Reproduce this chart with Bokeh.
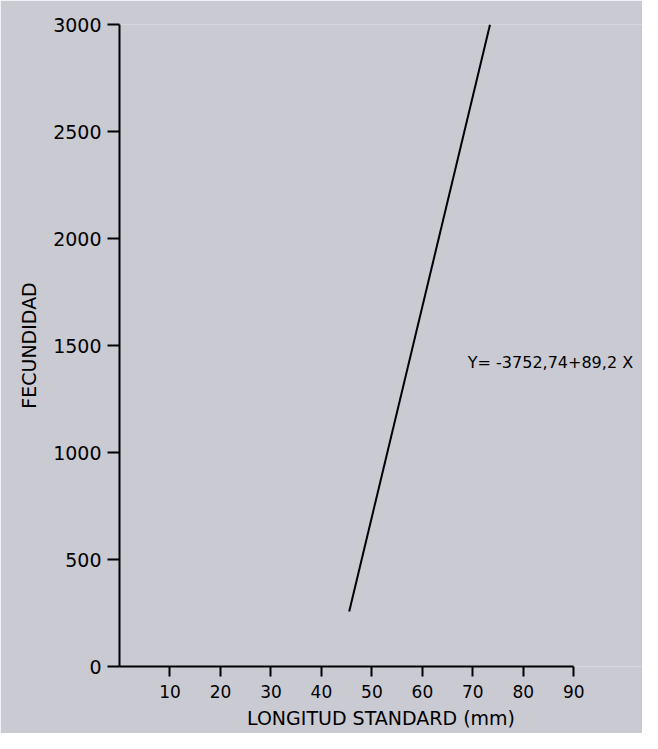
from bokeh.plotting import figure
from bokeh.models import Range1d, FixedTicker, Label
from bokeh.embed import file_html
from bokeh.resources import INLINE

# ---- data ----
x_ticks = [10, 20, 30, 40, 50, 60, 70, 80, 90]
x_tick_labels = ["10", "20", "30", "40", "50", "60", "70", "80", "90"]
y_ticks = [0, 500, 1000, 1500, 2000, 2500, 3000]
y_tick_labels = ["0", "500", "1000", "1500", "2000", "2500", "3000"]

line_x = [45.5, 73.4]      # longitud standard (mm)
line_y = [257, 3000]       # fecundidad

equation = "Y= -3752,74+89,2 X"
eq_pos = (69.0, 1420)

x_title = "LONGITUD STANDARD (mm)"
y_title = "FECUNDIDAD"

BG = "#cacad2"
FONT = "DejaVu Sans"

p = figure(width=642, height=733,
           x_range=Range1d(0, 103.6), y_range=Range1d(0, 3000),
           output_backend="svg", toolbar_location=None,
           min_border_left=119, min_border_right=0,
           min_border_top=24, min_border_bottom=67)

p.background_fill_color = BG
p.border_fill_color = BG
p.outline_line_color = None
p.grid.visible = False

# axes
p.xaxis.ticker = FixedTicker(ticks=x_ticks)
p.xaxis.major_label_overrides = {t: l for t, l in zip(x_ticks, x_tick_labels)}
p.xaxis.bounds = (0, 90)
p.yaxis.ticker = FixedTicker(ticks=y_ticks)
p.yaxis.major_label_overrides = {t: l for t, l in zip(y_ticks, y_tick_labels)}

for ax in (p.xaxis, p.yaxis):
    ax.axis_line_color = "black"
    ax.axis_line_width = 2
    ax.major_tick_line_color = "black"
    ax.major_tick_line_width = 2
    ax.major_tick_in = 0
    ax.minor_tick_line_color = None
    ax.major_label_text_font = FONT
    ax.major_label_text_color = "black"
    ax.axis_label_text_font = FONT
    ax.axis_label_text_font_style = "normal"
    ax.axis_label_text_font_size = "19px"
    ax.axis_label_text_color = "black"

p.xaxis.major_tick_out = 10
p.xaxis.major_label_standoff = 8
p.xaxis.major_label_text_font_size = "17px"
p.xaxis.axis_label = x_title
p.xaxis.axis_label_standoff = 6

p.yaxis.major_tick_out = 12
p.yaxis.major_label_standoff = 6
p.yaxis.major_label_text_font_size = "19px"
p.yaxis.axis_label = y_title
p.yaxis.axis_label_standoff = 10

# regression line
p.line(line_x, line_y, line_color="black", line_width=2)

# equation
p.add_layout(Label(x=eq_pos[0], y=eq_pos[1], text=equation,
                   text_font=FONT, text_font_size="16px", text_color="black",
                   text_align="left", text_baseline="middle"))

html = file_html(p, INLINE)
html = html.replace("<body>", '<body style="background-color:%s;">' % BG, 1)
open("out.html", "w").write(html)
